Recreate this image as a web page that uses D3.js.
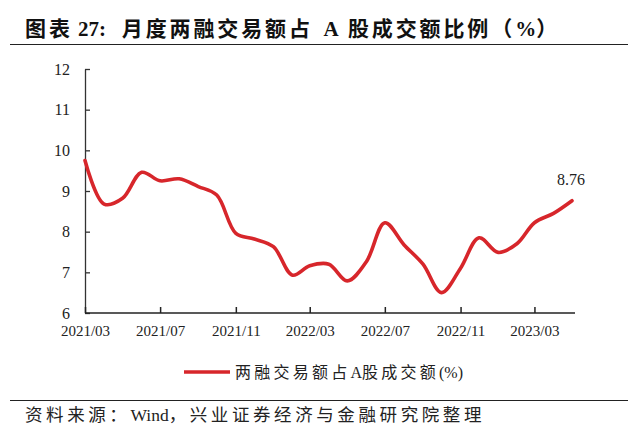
<!DOCTYPE html>
<html><head><meta charset="utf-8">
<script src="https://cdn.jsdelivr.net/npm/d3@7"></script>
<style>
body{margin:0;background:#fff;}
svg{display:block;}
text.pre{white-space:pre;}
</style></head>
<body>
<svg id="c" width="640" height="439"></svg>
<script>
const months = ["2021/03","2021/04","2021/05","2021/06","2021/07","2021/08","2021/09","2021/10","2021/11","2021/12",
"2022/01","2022/02","2022/03","2022/04","2022/05","2022/06","2022/07","2022/08","2022/09","2022/10","2022/11","2022/12",
"2023/01","2023/02","2023/03","2023/04","2023/05"];
const ratio = [9.75,8.68,8.82,9.46,9.25,9.30,9.11,8.90,7.96,7.82,7.63,6.93,7.16,7.20,6.79,7.26,8.22,7.68,7.20,6.50,7.10,7.85,7.49,7.71,8.22,8.45,8.76];
const yTicks = [6,7,8,9,10,11,12];
const xTickLabels = ["2021/03","2021/07","2021/11","2022/03","2022/07","2022/11","2023/03"];
const seriesName = "两融交易额占A股成交额(%)";
const titleText = "图表 27:   月度两融交易额占  A  股成交额比例（%）";
const sourceText = "资料来源：Wind，兴业证券经济与金融研究院整理";

const parse = d3.timeParse("%Y/%m");
const data = months.map((m,i)=>({date:parse(m), v:ratio[i]}));

const svg = d3.select("#c");
const serif = "'Liberation Serif','Times New Roman','Noto Sans CJK SC',serif";
const cjk = "'Liberation Serif','Noto Sans CJK SC',sans-serif";

// text helper: letter-spacing only on CJK runs so that total width hits target
const cjkRe = /[\u3000-\u9fff\uff00-\uffef]/;
function spacedText(sel, str, target){
  const runs = str.match(/[\u3000-\u9fff\uff00-\uffef]+|[^\u3000-\u9fff\uff00-\uffef]+/g);
  const spans = runs.map(r=>sel.append("tspan").attr("data-cjk", cjkRe.test(r)?1:0).text(r));
  const natural = sel.node().getComputedTextLength();
  let n = 0; runs.forEach(r=>{ if(cjkRe.test(r)) n += r.length; });
  const ls = Math.max(0,(target-natural)/n);
  spans.forEach(t=>{ if(t.attr("data-cjk")==="1") t.attr("letter-spacing", ls); });
}

const x = d3.scaleTime().domain([data[0].date, data[data.length-1].date]).range([85, 572]);
const y = d3.scaleLinear().domain([6,12]).range([313, 69]);

// title
const tt = svg.append("text").attr("class","pre").attr("x",25).attr("y",36).attr("font-family",cjk).attr("font-weight","bold")
  .attr("font-size",21).attr("fill","#111");
spacedText(tt, titleText, 535);
svg.append("line").attr("x1",10).attr("x2",628).attr("y1",44.5).attr("y2",44.5).attr("stroke","#222").attr("stroke-width",1);

// y axis
const yAxis = d3.axisLeft(y).tickValues(yTicks).tickFormat(d3.format("d")).tickSizeInner(-5).tickSizeOuter(0).tickPadding(15);
const gy = svg.append("g").attr("transform","translate(85,0)").call(yAxis);
gy.select(".domain").attr("stroke","#333").attr("stroke-width",1.3);
gy.selectAll(".tick line").attr("stroke","#333").attr("stroke-width",1.3);
gy.selectAll("text").attr("font-family",serif).attr("font-size",16).attr("fill","#222");

// x axis
const xAxis = d3.axisBottom(x).tickValues(xTickLabels.map(parse)).tickFormat(d3.timeFormat("%Y/%m"))
  .tickSizeInner(-6).tickSizeOuter(0).tickPadding(12);
const gx = svg.append("g").attr("transform","translate(0,313)").call(xAxis);
gx.select(".domain").attr("d","M85,0H575").attr("stroke","#222").attr("stroke-width",1.6);
gx.selectAll(".tick line").attr("stroke","#222").attr("stroke-width",1.5);
gx.selectAll("text").attr("font-family",serif).attr("font-size",15).attr("fill","#222");

// line
const line = d3.line().x(d=>x(d.date)).y(d=>y(d.v)).curve(d3.curveCatmullRom.alpha(0.5));
svg.append("path").datum(data).attr("d",line).attr("fill","none")
  .attr("stroke","#d7262b").attr("stroke-width",3.6).attr("stroke-linejoin","round").attr("stroke-linecap","round");

// end label
const last = data[data.length-1];
svg.append("text").attr("x",x(last.date)-1).attr("y",y(last.v)-16).attr("text-anchor","middle")
  .attr("font-family",serif).attr("font-size",16).attr("fill","#222").text(d3.format(".2f")(last.v));

// legend
svg.append("line").attr("x1",184).attr("x2",230).attr("y1",372).attr("y2",372)
  .attr("stroke","#d7262b").attr("stroke-width",3.6);
const lt = svg.append("text").attr("x",235).attr("y",378).attr("font-family",cjk).attr("font-size",16).attr("fill","#222");
spacedText(lt, seriesName, 228);

// source
svg.append("line").attr("x1",10).attr("x2",628).attr("y1",400.5).attr("y2",400.5).attr("stroke","#222").attr("stroke-width",1);
const st = svg.append("text").attr("x",25).attr("y",421).attr("font-family",cjk).attr("font-size",17.5).attr("fill","#222");
spacedText(st, sourceText, 460);
</script>
</body></html>
